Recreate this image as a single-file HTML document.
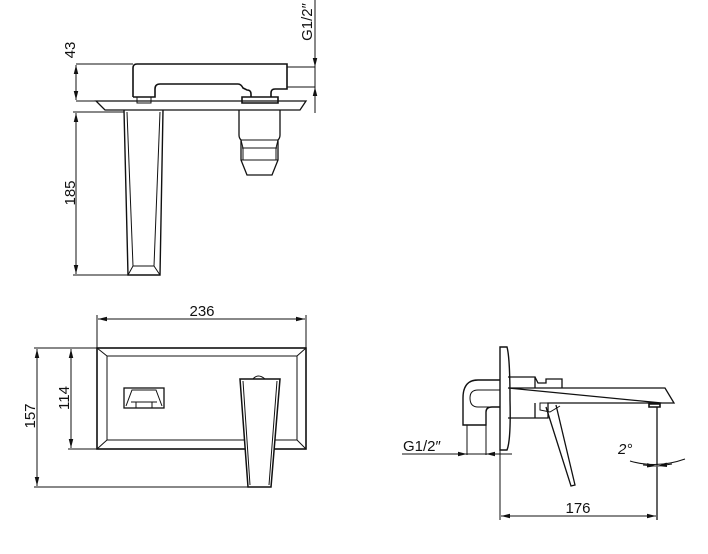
<!DOCTYPE html>
<html><head><meta charset="utf-8"><style>
html,body{margin:0;padding:0;background:#fff;}
svg{display:block;}
text{font-family:"Liberation Sans Narrow","Liberation Sans",sans-serif;font-size:15px;fill:#111;}
</style></head><body>
<svg width="708" height="554" viewBox="0 0 708 554" xmlns="http://www.w3.org/2000/svg">
<defs>
<marker id="a" viewBox="0 0 10 10" refX="10" refY="5" markerWidth="9" markerHeight="9" orient="auto-start-reverse" markerUnits="userSpaceOnUse"><path d="M0,2.5 L10,5 L0,7.5 z" fill="#111"/></marker>
</defs>
<g fill="none" stroke="#111" stroke-width="1">
<!-- TOP VIEW -->
<line x1="76" y1="64" x2="133" y2="64"/>
<line x1="76" y1="101" x2="100" y2="101"/>
<line x1="76" y1="65" x2="76" y2="100" marker-start="url(#a)" marker-end="url(#a)"/>
<line x1="73" y1="112" x2="124" y2="112"/>
<line x1="73" y1="275" x2="128" y2="275"/>
<line x1="76" y1="113" x2="76" y2="274" marker-start="url(#a)" marker-end="url(#a)"/>
<line x1="315" y1="0" x2="315" y2="113"/>
<line x1="315" y1="50" x2="315" y2="67" marker-end="url(#a)"/>
<line x1="315" y1="104" x2="315" y2="87" marker-end="url(#a)"/>
<path stroke-width="1.6" d="M133,97 L133,68 Q133,64 137,64 L287,64 L287,89 L275,89 Q271,89 271,93 L271,97 M251,97 L251,94 Q251,90 247,90 L243,88 Q241,84 238,84 L160,84 Q155,84 155,89 L155,97 L133,97"/>
<path d="M137,97 L137,103 L151,103 L151,97"/>
<path stroke-width="1.6" d="M242,97 L278,97 L278,103 L242,103 z"/>
<path d="M287,67 L315,67 M287,87 L315,87"/>
<path stroke-width="1.3" d="M96,101 L306,101 L300,110 L105,110 z"/>
<path stroke-width="1.4" d="M124,110 L128,275 L160,275 L163,110"/>
<path d="M127,112 L133,266 L154,266 L160,112 M128,275 L133,266 M160,275 L154,266"/>
<path stroke-width="1.3" d="M239,110 L239,135 Q239,138 241,140 L241,160 L247,175 L272,175 L278,160 L278,140 Q280,138 280,135 L280,110"/>
<path d="M241,140 L278,140 M242,148 L277,148 M241,160 L278,160 M243,148 L243,160 M276,148 L276,160 M241,140 L243,148 M278,140 L276,148"/>
<!-- FRONT VIEW -->
<line x1="97" y1="315" x2="97" y2="348"/>
<line x1="306" y1="315" x2="306" y2="348"/>
<line x1="98" y1="319" x2="305" y2="319" marker-start="url(#a)" marker-end="url(#a)"/>
<line x1="68" y1="348" x2="97" y2="348"/>
<line x1="68" y1="449" x2="97" y2="449"/>
<line x1="71" y1="349" x2="71" y2="448" marker-start="url(#a)" marker-end="url(#a)"/>
<line x1="34" y1="348" x2="68" y2="348"/>
<line x1="34" y1="487" x2="249" y2="487"/>
<line x1="37" y1="349" x2="37" y2="486" marker-start="url(#a)" marker-end="url(#a)"/>
<rect x="97" y="348" width="209" height="101" stroke-width="1.6"/>
<rect x="107" y="356" width="190" height="84"/>
<path d="M97,348 L107,356 M306,348 L297,356 M97,449 L107,440 M306,449 L297,440"/>
<rect x="124" y="388" width="40" height="20" stroke-width="1.3"/>
<path d="M126,406 L132,390 L156,390 L162,406 M131,402 L157,402 M136,402 L136,408 L152,408 L152,402"/>
<path fill="#fff" stroke-width="1.5" d="M240,379 L280,379 L271,487 L248,487 z"/>
<path d="M243,381 L250,485 M277,381 L269,485 M253,379 Q258,373 265,379"/>
<!-- SIDE VIEW -->
<path stroke-width="1.4" d="M500,347 L500,450 L507,450 Q511,440 510,400 Q510,358 507,347 z"/>
<path stroke-width="1.4" d="M500,380 L478,380 Q463,380 463,398 L463,425 L486,425 L486,412 Q486,407 492,407 L500,407"/>
<path d="M478,390 Q470,390 470,398 Q470,407 478,407 L500,407 M478,390 L500,390"/>
<path d="M467,425 L467,455 M486,425 L486,455"/>
<line x1="402" y1="454" x2="512" y2="454"/>
<line x1="450" y1="454" x2="467" y2="454" marker-end="url(#a)"/>
<line x1="505" y1="454" x2="486" y2="454" marker-end="url(#a)"/>
<path stroke-width="1.3" d="M508,377 L535,377 L535,388 M535,377 L538,383 L546,383 L546,379 L562,379 L562,388 M508,388 L665,388 L674,403 L548,403 L548,418 L508,418 M508,388 L662,403 M535,403 L535,418"/>
<path d="M548,403 L540,403 L540,410 L550,412 L560,406"/>
<path stroke-width="1.6" d="M649,404 L660,404 L660,407 L649,407 z"/>
<line x1="657" y1="407" x2="657" y2="520" stroke-width="1.3"/>
<path stroke-width="1.3" d="M546,407 L571,486 L575,485 L556,405"/>
<line x1="500" y1="450" x2="500" y2="520"/>
<line x1="501" y1="516" x2="656" y2="516" marker-start="url(#a)" marker-end="url(#a)"/>
<path d="M630,461 Q657,469 685,459"/>
<line x1="643" y1="465" x2="656" y2="466" marker-end="url(#a)"/>
<line x1="672" y1="464" x2="658" y2="466" marker-end="url(#a)"/>
</g>
<text transform="translate(75,50) rotate(-90)" text-anchor="middle">43</text>
<text transform="translate(75,193) rotate(-90)" text-anchor="middle">185</text>
<text transform="translate(312,22) rotate(-90)" text-anchor="middle">G1/2″</text>
<text x="202" y="316" text-anchor="middle">236</text>
<text transform="translate(69,398) rotate(-90)" text-anchor="middle">114</text>
<text transform="translate(35,416) rotate(-90)" text-anchor="middle">157</text>
<text x="403" y="451">G1/2″</text>
<text x="578" y="513" text-anchor="middle">176</text>
<text x="618" y="454" font-style="italic">2°</text>
</svg>
</body></html>
